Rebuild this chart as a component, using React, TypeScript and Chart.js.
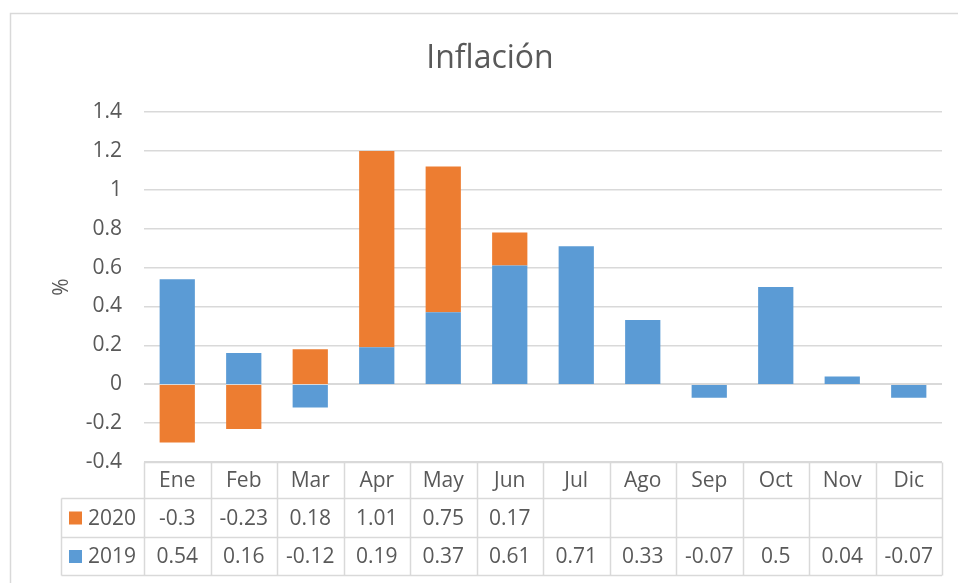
import React, { useEffect, useRef } from "react";
import { Chart, registerables } from "chart.js";

Chart.register(...registerables);

const months = ["Ene", "Feb", "Mar", "Apr", "May", "Jun", "Jul", "Ago", "Sep", "Oct", "Nov", "Dic"];
const values2020: (number | null)[] = [-0.3, -0.23, 0.18, 1.01, 0.75, 0.17, null, null, null, null, null, null];
const values2019: (number | null)[] = [0.54, 0.16, -0.12, 0.19, 0.37, 0.61, 0.71, 0.33, -0.07, 0.5, 0.04, -0.07];
const seriesNames = ["2020", "2019"];
const chartTitle = "Inflación";
const yTitle = "%";

const ORANGE = "#ED7D31";
const BLUE = "#5B9BD5";
const GRID = "#D9D9D9";
const TEXT = "#595959";
const FONT = "'Open Sans', sans-serif";

export default function App() {
  const ref = useRef<HTMLCanvasElement | null>(null);

  useEffect(() => {
    document.body.style.margin = "0";
    const canvas = ref.current;
    if (!canvas) return;

    const decor = {
      id: "decor",
      beforeDraw(chart: any) {
        const ctx = chart.ctx;
        ctx.save();
        ctx.fillStyle = "#ffffff";
        ctx.fillRect(0, 0, chart.width, chart.height);
        ctx.strokeStyle = GRID;
        ctx.lineWidth = 1.5;
        ctx.strokeRect(10.5, 13.5, 1000, 700);
        ctx.restore();
      },
      afterDatasetsDraw(chart: any) {
        const ctx = chart.ctx;
        const { left, right } = chart.chartArea;
        const y0 = Math.round(chart.scales.y.getPixelForValue(0)) + 0.5;
        ctx.save();
        ctx.strokeStyle = GRID;
        ctx.lineWidth = 1;
        ctx.beginPath();
        ctx.moveTo(left, y0);
        ctx.lineTo(right, y0);
        ctx.stroke();
        ctx.restore();
      },
      afterDraw(chart: any) {
        const ctx = chart.ctx;
        const { left, right, top, bottom } = chart.chartArea;
        const xs = chart.scales.x;
        ctx.save();
        // title
        ctx.fillStyle = TEXT;
        ctx.font = `32px ${FONT}`;
        ctx.textAlign = "center";
        ctx.textBaseline = "middle";
        ctx.fillText(chartTitle, 490, 59);
        // y title
        ctx.save();
        ctx.translate(62, (top + bottom) / 2);
        ctx.rotate(-Math.PI / 2);
        ctx.font = `21px ${FONT}`;
        ctx.fillText(yTitle, 0, 0);
        ctx.restore();

        // data table
        const rowH = [36, 39, 38];
        const r0 = Math.round(bottom) + 0.5;
        const r1 = r0 + rowH[0];
        const r2 = r1 + rowH[1];
        const r3 = r2 + rowH[2];
        const legLeft = 61.5;
        const n = months.length;
        const half = (xs.getPixelForValue(1) - xs.getPixelForValue(0)) / 2;
        ctx.strokeStyle = GRID;
        ctx.lineWidth = 1.5;
        ctx.beginPath();
        ctx.moveTo(left, r0); ctx.lineTo(right, r0);
        ctx.moveTo(legLeft, r1); ctx.lineTo(right, r1);
        ctx.moveTo(legLeft, r2); ctx.lineTo(right, r2);
        ctx.moveTo(legLeft, r3); ctx.lineTo(right, r3);
        ctx.moveTo(legLeft, r1); ctx.lineTo(legLeft, r3);
        for (let i = 0; i <= n; i++) {
          const x = Math.round(i < n ? xs.getPixelForValue(i) - half : xs.getPixelForValue(n - 1) + half) + 0.5;
          ctx.moveTo(x, r0); ctx.lineTo(x, r3);
        }
        ctx.stroke();

        ctx.fillStyle = TEXT;
        ctx.font = `21px ${FONT}`;
        ctx.textAlign = "center";
        ctx.textBaseline = "middle";
        const rows = [values2020, values2019];
        months.forEach((m, i) => {
          const cx = xs.getPixelForValue(i);
          ctx.fillText(m, cx, (r0 + r1) / 2 + 1);
          rows.forEach((vals, k) => {
            const v = vals[i];
            const yy = k === 0 ? (r1 + r2) / 2 + 1 : (r2 + r3) / 2 + 1;
            if (v !== null && v !== undefined) ctx.fillText(String(v), cx, yy);
          });
        });
        const colors = [ORANGE, BLUE];
        seriesNames.forEach((name, k) => {
          const yy = k === 0 ? (r1 + r2) / 2 : (r2 + r3) / 2;
          ctx.fillStyle = colors[k];
          ctx.fillRect(69, yy - 6.5, 13, 13);
          ctx.fillStyle = TEXT;
          ctx.textAlign = "left";
          ctx.fillText(name, 88, yy + 1);
        });
        ctx.restore();
      },
    };

    const chart = new Chart(canvas, {
      type: "bar",
      data: {
        labels: months,
        datasets: [
          { label: "2019", data: values2019, backgroundColor: BLUE, categoryPercentage: 1, barPercentage: 0.53 },
          { label: "2020", data: values2020, backgroundColor: ORANGE, categoryPercentage: 1, barPercentage: 0.53 },
        ],
      },
      options: {
        animation: false,
        responsive: false,
        maintainAspectRatio: false,
        layout: { padding: { top: 112, bottom: 121, left: 0, right: 16 } },
        plugins: { legend: { display: false }, title: { display: false }, tooltip: { enabled: false } },
        scales: {
          x: { stacked: true, display: false, grid: { display: false } },
          y: {
            stacked: true,
            min: -0.4,
            max: 1.4,
            afterFit: (s: any) => { s.width = 144; },
            border: { display: false },
            grid: { color: GRID, lineWidth: 1.5, drawTicks: false },
            ticks: {
              stepSize: 0.2,
              padding: 22,
              color: TEXT,
              font: { family: FONT, size: 21 },
              callback: (v: any) => String(Number(Number(v).toFixed(1))),
            },
          },
        },
      },
      plugins: [decor],
    });
    return () => chart.destroy();
  }, []);

  return (
    <div style={{ width: 958, height: 583 }}>
      <canvas ref={ref} width={958} height={583} style={{ display: "block" }} />
    </div>
  );
}
